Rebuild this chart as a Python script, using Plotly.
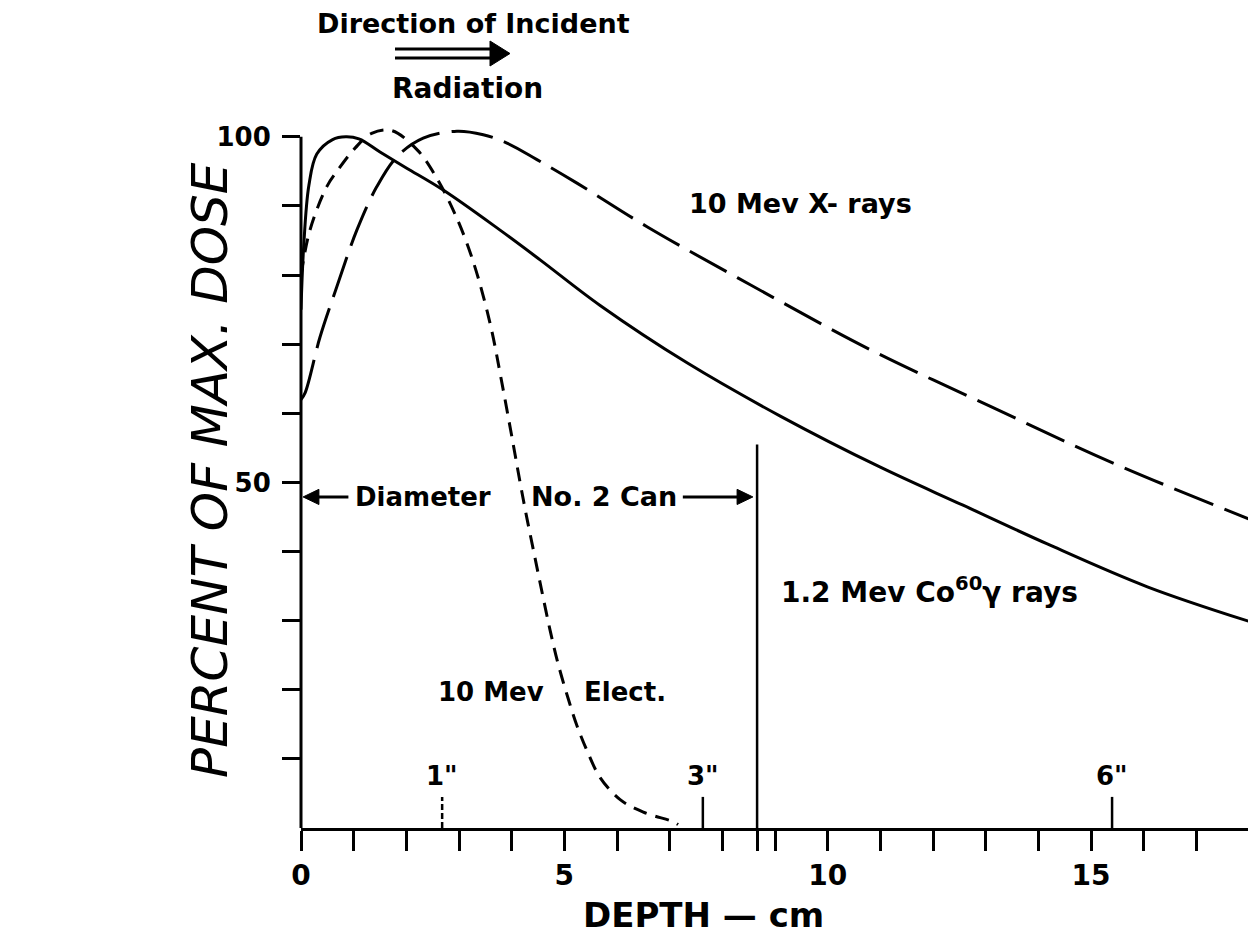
import plotly.graph_objects as go

# ---------------- data ----------------
# 1.2 Mev Co60 gamma rays (solid)
co60_x = [0.0, 0.05, 0.15, 0.3, 0.6, 0.85, 1.1, 1.5, 2.0, 2.7, 3.78, 4.54, 5.68, 7.33, 9.1, 11.0, 12.57, 14.17, 16.07, 18.0]
co60_y = [75, 84, 93, 97.5, 99.6, 100, 99.7, 97.8, 95.5, 92.3, 86.5, 82.2, 75.6, 67.3, 59.6, 52.2, 46.7, 41.1, 34.9, 29.9]

# 10 Mev electrons (short dashes)
elec_x = [0.0, 0.17, 0.49, 0.7, 1.03, 1.34, 1.72, 2.22, 2.58, 2.89, 3.15, 3.38, 3.62, 3.8, 4.03, 4.16, 4.29,
          4.44, 4.58, 4.73, 4.88, 5.07, 5.24, 5.43, 5.68, 6.06, 6.5, 7.07, 7.16]
elec_y = [80, 86.5, 92.8, 95.2, 98.4, 100.5, 100.9, 98.0, 94.0, 89.4, 84.6, 79.2, 72.0, 65.0, 55.5, 50.0, 44.8,
          39.2, 34.0, 28.6, 23.8, 18.8, 14.8, 11.2, 7.3, 4.1, 2.3, 0.9, 0.5]

# 10 Mev X-rays (long dashes)
xray_x = [0.0, 0.08, 0.36, 0.68, 1.06, 1.44, 1.82, 2.32, 2.96, 3.46, 3.91, 4.48, 5.24, 6.57, 8.53, 10.81, 13.09, 15.42, 18.0]
xray_y = [62, 63, 71, 78.3, 86.5, 92.8, 97.1, 99.8, 100.8, 100.3, 99.1, 96.7, 93.3, 87.0, 78.6, 69.2, 61.0, 52.8, 44.7]

x_major_vals = [0, 5, 10, 15]
x_major_labels = ["0", "5", "10", "15"]
x_minor_vals = [1, 2, 3, 4, 6, 7, 8, 9, 11, 12, 13, 14, 16, 17, 18]
y_major_vals = [50, 100]
y_major_labels = ["50", "100"]
y_minor_vals = [10, 20, 30, 40, 60, 70, 80, 90]

inch_marks_cm = [2.68, 7.63, 15.4]
inch_labels = ['1"', '3"', '6"']
can_diameter_cm = 8.66
arrow_level = 47.9

# ---------------- layout geometry ----------------
W, H = 1256, 939
OFF = 8                      # browser body margin
L, R, T, B = 301, 1249, 123, 828   # plot area as seen on screen
X_MAX, Y_MAX = 18, 102
FONT = "DejaVu Sans"


def px(xp):
    return (xp - L) / (R - L)


def py(yp):
    return (B - yp) / (B - T)


fig = go.Figure()
line_common = dict(color="black", width=3, shape="spline", smoothing=1.0)
fig.add_trace(go.Scatter(x=co60_x, y=co60_y, mode="lines", line=dict(**line_common), name="Co60"))
fig.add_trace(go.Scatter(x=elec_x, y=elec_y, mode="lines", line=dict(dash="14px,9px", **line_common), name="Elect"))
fig.add_trace(go.Scatter(x=xray_x, y=xray_y, mode="lines", line=dict(dash="42px,12px", **line_common), name="X"))

fig.update_layout(
    width=W, height=H, autosize=False,
    margin=dict(l=L - OFF, r=W - R + OFF, t=T - OFF, b=H - B + OFF, pad=0),
    plot_bgcolor="white", paper_bgcolor="white", showlegend=False,
    xaxis=dict(range=[0, X_MAX], tickvals=x_major_vals, ticktext=x_major_labels, ticks="outside", ticklen=20,
               tickwidth=2.5, tickcolor="black", showline=True, linewidth=3, linecolor="black", showgrid=False,
               zeroline=False, tickfont=dict(family=FONT, size=28, color="black", weight="bold"),
               ticklabelstandoff=0,
               minor=dict(tickvals=x_minor_vals + [can_diameter_cm], ticks="outside", ticklen=20, tickwidth=2.5,
                          tickcolor="black", showgrid=False)),
    yaxis=dict(range=[0, Y_MAX], tickvals=y_major_vals, ticktext=y_major_labels, ticks="outside", ticklen=18,
               tickwidth=2.5, tickcolor="black", showline=False, showgrid=False, zeroline=False,
               tickfont=dict(family=FONT, size=26, color="black", weight="bold"), ticklabelstandoff=6,
               minor=dict(tickvals=y_minor_vals, ticks="outside", ticklen=18, tickwidth=2.5, tickcolor="black",
                          showgrid=False)),
)

shapes = []
# y axis line (0 to 100)
shapes.append(dict(type="line", xref="paper", yref="paper", x0=0, x1=0, y0=0, y1=100 / Y_MAX,
                   line=dict(color="black", width=3)))
# can diameter line
shapes.append(dict(type="line", xref="x", yref="y", x0=can_diameter_cm, x1=can_diameter_cm, y0=0, y1=55.5,
                   line=dict(color="black", width=2.5)))
# inch marks
for cm, lab in zip(inch_marks_cm, inch_labels):
    shapes.append(dict(type="line", xref="x", yref="y", x0=cm, x1=cm, y0=0, y1=4.5,
                       line=dict(color="black", width=2.5, dash="6px,3px" if lab == '1"' else "solid")))
# diameter arrows (shaft + head)
for head, tail in [(0.04, 0.9), (8.58, 7.25)]:
    d = 0.3 if tail > head else -0.3
    shapes.append(dict(type="line", xref="x", yref="y", x0=tail, x1=head + d * 0.8, y0=arrow_level, y1=arrow_level,
                       line=dict(color="black", width=3)))
    shapes.append(dict(type="path", xref="x", yref="y",
                       path=f"M {head} {arrow_level} L {head + d} {arrow_level + 1.1} L {head + d} {arrow_level - 1.1} Z",
                       fillcolor="black", line=dict(color="black", width=1)))
# double arrow "Direction of Incident Radiation"
shapes.append(dict(type="line", xref="paper", yref="paper", x0=px(395), x1=px(493), y0=py(49), y1=py(49),
                   line=dict(color="black", width=3)))
shapes.append(dict(type="line", xref="paper", yref="paper", x0=px(395), x1=px(493), y0=py(58), y1=py(58),
                   line=dict(color="black", width=3)))
shapes.append(dict(type="path", xref="paper", yref="paper",
                   path=f"M {px(490)} {py(41)} L {px(510)} {py(53.5)} L {px(490)} {py(66)} Z",
                   fillcolor="black", line=dict(color="black", width=1)))
fig.update_layout(shapes=shapes)

ann = []


def txt(text, x, y, size=26, xanchor="center", xref="paper", yref="paper", **kw):
    ann.append(dict(text=text, x=x, y=y, xref=xref, yref=yref, xanchor=xanchor, yanchor="middle", showarrow=False,
                    borderpad=0,
                    font=dict(family=FONT, size=size, color="black", weight=kw.pop("weight", "bold")), **kw))


txt("Direction of Incident", px(473), py(24), size=27)
txt("Radiation", px(467), py(88), size=28)
txt("10 Mev X- rays", 7.35, 90.4, size=27, xanchor="left", xref="x", yref="y")
txt("Diameter", 1.0, arrow_level, size=26, xanchor="left", xref="x", yref="y")
txt("No. 2 Can", 4.35, arrow_level, size=27, xanchor="left", xref="x", yref="y")
txt("1.2 Mev Co<sup>60</sup>γ rays", 9.1, 34.4, size=28, xanchor="left", xref="x", yref="y")
txt("10 Mev", 2.58, 19.7, size=26, xanchor="left", xref="x", yref="y")
txt("Elect.", 5.35, 19.7, size=26, xanchor="left", xref="x", yref="y")
for cm, lab in zip(inch_marks_cm, inch_labels):
    txt(lab, cm, 7.5, size=26, xref="x", yref="y")
txt("DEPTH — cm", px(703), py(915), size=34)
txt("<i>PERCENT OF MAX. DOSE</i>", px(210), py(470), size=50, textangle=-90, weight="normal")

fig.update_layout(annotations=ann)
fig.write_html("out.html")
